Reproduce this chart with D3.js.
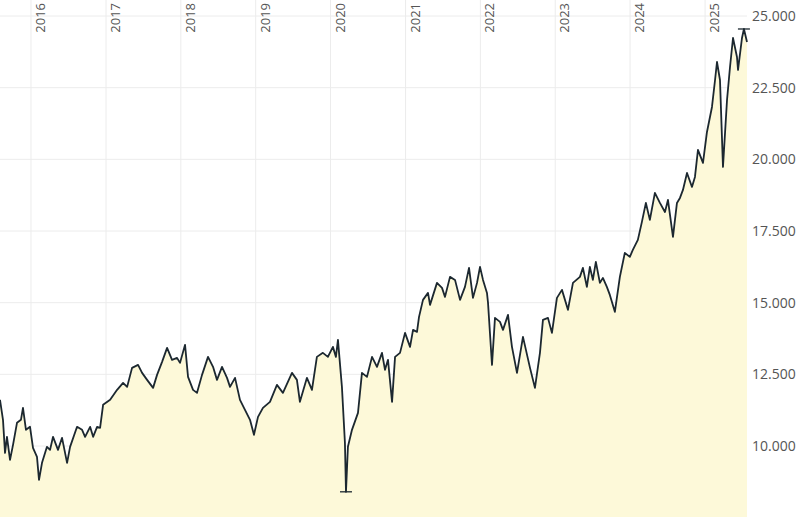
<!DOCTYPE html>
<html><head><meta charset="utf-8">
<script src="https://cdn.jsdelivr.net/npm/d3@7"></script>
<style>body{margin:0;background:#fff}svg{display:block}</style>
</head><body><svg id="c" width="800" height="517"></svg>
<script>
// decimal years
const dates = [2015.586,2015.626,2015.653,2015.679,2015.720,2015.760,2015.813,2015.866,2015.893,2015.933,2015.987,2016.027,2016.080,2016.107,2016.147,2016.213,2016.254,2016.294,2016.360,2016.414,2016.481,2016.521,2016.614,2016.681,2016.721,2016.788,2016.828,2016.881,2016.921,2016.961,2017.055,2017.148,2017.228,2017.282,2017.348,2017.428,2017.482,2017.549,2017.629,2017.682,2017.749,2017.816,2017.882,2017.949,2017.989,2018.056,2018.096,2018.163,2018.216,2018.283,2018.363,2018.430,2018.483,2018.550,2018.617,2018.657,2018.724,2018.790,2018.857,2018.924,2018.977,2019.031,2019.097,2019.191,2019.284,2019.364,2019.485,2019.551,2019.591,2019.685,2019.752,2019.818,2019.898,2019.965,2020.032,2020.072,2020.099,2020.152,2020.192,2020.206,2020.232,2020.286,2020.366,2020.419,2020.486,2020.553,2020.619,2020.686,2020.726,2020.766,2020.820,2020.860,2020.926,2020.993,2021.060,2021.100,2021.153,2021.180,2021.233,2021.300,2021.327,2021.420,2021.487,2021.527,2021.594,2021.661,2021.728,2021.794,2021.848,2021.901,2021.955,2021.995,2022.035,2022.088,2022.102,2022.155,2022.195,2022.262,2022.302,2022.369,2022.422,2022.489,2022.569,2022.663,2022.729,2022.796,2022.836,2022.903,2022.956,2023.023,2023.090,2023.170,2023.237,2023.330,2023.370,2023.423,2023.463,2023.503,2023.543,2023.597,2023.637,2023.690,2023.730,2023.797,2023.864,2023.930,2023.997,2024.037,2024.104,2024.158,2024.211,2024.264,2024.331,2024.398,2024.465,2024.505,2024.572,2024.625,2024.665,2024.705,2024.759,2024.825,2024.865,2024.905,2024.972,2025.025,2025.092,2025.133,2025.159,2025.199,2025.239,2025.293,2025.333,2025.373,2025.426,2025.440,2025.493,2025.519,2025.560];
const values = [11610,10913,9762,10320,9518,10041,10808,10913,11331,10564,10669,9936,9622,8820,9413,9971,9866,10320,9866,10285,9413,9971,10669,10564,10320,10669,10320,10669,10634,11436,11610,11959,12203,12063,12726,12830,12551,12307,12028,12481,12935,13423,13005,13074,12900,13528,12412,11959,11854,12481,13109,12761,12307,12761,12377,12063,12377,11610,11261,10913,10390,11017,11331,11540,12133,11854,12551,12307,11540,12377,11959,13109,13249,13109,13458,13109,13702,12063,10111,8402,9971,10564,11157,12551,12412,13109,12761,13249,12656,13005,11540,13109,13249,13946,13458,14051,13981,14504,15097,15341,14923,15690,15515,15202,15899,15794,15097,15550,16213,15167,15690,16248,15794,15341,14992,12830,14469,14330,14051,14574,13458,12551,13807,12726,12028,13249,14400,14469,13946,15167,15446,14749,15690,15899,16213,15550,16248,15794,16422,15690,15864,15550,15271,14679,15899,16736,16597,16841,17189,17817,18479,17887,18828,18479,18165,18584,17294,18479,18654,18933,19525,19037,19386,20328,19874,20955,21827,22768,23396,22768,19735,22071,23222,24233,23570,23117,24233,24547,24093];
const yTicks = [10000,12500,15000,17500,20000,22500,25000];
const xTickYears = [2016,2017,2018,2019,2020,2021,2022,2023,2024,2025];

const toDate = t => { const y = Math.floor(t); const s = new Date(y,0,1), e = new Date(y+1,0,1); return new Date(+s + (t-y)*(e-s)); };
const data = dates.map((d,i)=>({d:toDate(d), v:values[i]}));
const svg = d3.select('#c');
const x = d3.scaleTime().domain([data[0].d, data[data.length-1].d]).range([0,747]);
const y = d3.scaleLinear().domain([10000,25000]).range([446,16]);
const fmt = v => d3.format(',')(v).replace(/,/g,'.');

svg.append('g').selectAll('line').data(yTicks).join('line')
  .attr('x1',0).attr('x2',747).attr('y1',d=>y(d)).attr('y2',d=>y(d)).attr('stroke','#ececec');
svg.append('g').selectAll('line').data(xTickYears).join('line')
  .attr('x1',d=>x(new Date(d,0,1))).attr('x2',d=>x(new Date(d,0,1))).attr('y1',0).attr('y2',517).attr('stroke','#ececec');

svg.append('path').datum(data).attr('fill','#fdf9d9')
  .attr('d', d3.area().x(d=>x(d.d)).y0(517).y1(d=>y(d.v)));
svg.append('path').datum(data).attr('fill','none').attr('stroke','#1c2830').attr('stroke-width',1.8).attr('stroke-linejoin','round')
  .attr('d', d3.line().x(d=>x(d.d)).y(d=>y(d.v)));

const mn = data.reduce((a,b)=>b.v<a.v?b:a), mx = data.reduce((a,b)=>b.v>a.v?b:a);
[mn,mx].forEach(p=>{
  svg.append('line').attr('x1',x(p.d)-6).attr('x2',x(p.d)+6).attr('y1',y(p.v)).attr('y2',y(p.v)).attr('stroke','#1c2830').attr('stroke-width',1.3);
});

svg.append('g').selectAll('text').data(yTicks).join('text')
  .attr('x',752).attr('y',d=>y(d)+5).attr('font-family','Open Sans, sans-serif').attr('font-size',14).attr('fill','#555').text(fmt);
svg.append('g').selectAll('text').data(xTickYears).join('text')
  .attr('transform',d=>`translate(${x(new Date(d,0,1))+14},3) rotate(-90)`).attr('text-anchor','end')
  .attr('font-family','Open Sans, sans-serif').attr('font-size',13).attr('fill','#555').text(d=>d);
</script></body></html>
